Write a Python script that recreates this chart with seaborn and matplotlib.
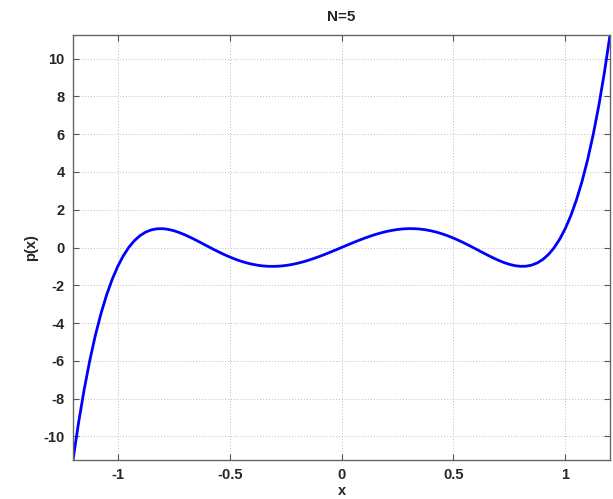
import matplotlib
matplotlib.use("Agg")
import matplotlib.pyplot as plt
import seaborn as sns
import pandas as pd

x_vals = [-1.200, -1.175, -1.150, -1.125, -1.100, -1.075, -1.050, -1.025, -1.000, -0.975,
          -0.950, -0.925, -0.900, -0.875, -0.850, -0.825, -0.800, -0.775, -0.750, -0.725,
          -0.700, -0.675, -0.650, -0.625, -0.600, -0.575, -0.550, -0.525, -0.500, -0.475,
          -0.450, -0.425, -0.400, -0.375, -0.350, -0.325, -0.300, -0.275, -0.250, -0.225,
          -0.200, -0.175, -0.150, -0.125, -0.100, -0.075, -0.050, -0.025, 0.000, 0.025,
          0.050, 0.075, 0.100, 0.125, 0.150, 0.175, 0.200, 0.225, 0.250, 0.275,
          0.300, 0.325, 0.350, 0.375, 0.400, 0.425, 0.450, 0.475, 0.500, 0.525,
          0.550, 0.575, 0.600, 0.625, 0.650, 0.675, 0.700, 0.725, 0.750, 0.775,
          0.800, 0.825, 0.850, 0.875, 0.900, 0.925, 0.950, 0.975, 1.000, 1.025,
          1.050, 1.075, 1.100, 1.125, 1.150, 1.175, 1.200]
p_vals = [-11.248, -9.266, -7.514, -5.981, -4.648, -3.499, -2.518, -1.690, -1.000, -0.435,
          0.017, 0.369, 0.632, 0.817, 0.933, 0.990, 0.997, 0.961, 0.891, 0.792,
          0.671, 0.534, 0.386, 0.232, 0.076, -0.079, -0.228, -0.369, -0.500, -0.618,
          -0.723, -0.812, -0.884, -0.939, -0.977, -0.996, -0.999, -0.984, -0.953, -0.906,
          -0.845, -0.770, -0.684, -0.586, -0.480, -0.367, -0.248, -0.125, 0.000, 0.125,
          0.248, 0.367, 0.480, 0.586, 0.684, 0.770, 0.845, 0.906, 0.953, 0.984,
          0.999, 0.996, 0.977, 0.939, 0.884, 0.812, 0.723, 0.618, 0.500, 0.369,
          0.228, 0.079, -0.076, -0.232, -0.386, -0.534, -0.671, -0.792, -0.891, -0.961,
          -0.997, -0.990, -0.933, -0.817, -0.632, -0.369, -0.017, 0.435, 1.000, 1.690,
          2.518, 3.499, 4.648, 5.981, 7.514, 9.266, 11.248]
x_ticks = [-1, -0.5, 0, 0.5, 1]
x_ticklabels = ["-1", "-0.5", "0", "0.5", "1"]
y_ticks = [-10, -8, -6, -4, -2, 0, 2, 4, 6, 8, 10]

sns.set_style("white")
plt.rcParams['font.family'] = ['Liberation Sans', 'DejaVu Sans']

df = pd.DataFrame({"x": x_vals, "p": p_vals})
fig = plt.figure(figsize=(6.13, 4.99), dpi=100)
ax = fig.add_axes([73/613, 1 - 460/499, (610-73)/613, (460-35)/499])
sns.lineplot(data=df, x="x", y="p", ax=ax, color="#0000ff", linewidth=2)
ax.set_xlim(-1.2, 1.2)
ax.set_ylim(-11.25, 11.25)
ax.set_xticks(x_ticks)
ax.set_xticklabels(x_ticklabels)
ax.set_yticks(y_ticks)
ax.set_yticklabels([str(v) for v in y_ticks])
for lab in ax.get_xticklabels() + ax.get_yticklabels():
    lab.set_fontweight("bold")
    lab.set_fontsize(10.5)
ax.tick_params(direction="in", length=4, width=0.8, color="#555555",
               top=True, right=True, bottom=True, left=True, pad=6)
ax.grid(True, linestyle=(0, (1, 2)), color="#bbbbbb", linewidth=0.7)
for s in ax.spines.values():
    s.set_color("#666666")
    s.set_linewidth(1.0)
ax.set_xlabel("x", fontsize=10.5, fontweight="bold", labelpad=1)
ax.set_ylabel("p(x)", fontsize=10.5, fontweight="bold", labelpad=4)
ax.set_title("N=5", fontsize=11, fontweight="bold", pad=10)
fig.savefig("out.png", dpi=100)
